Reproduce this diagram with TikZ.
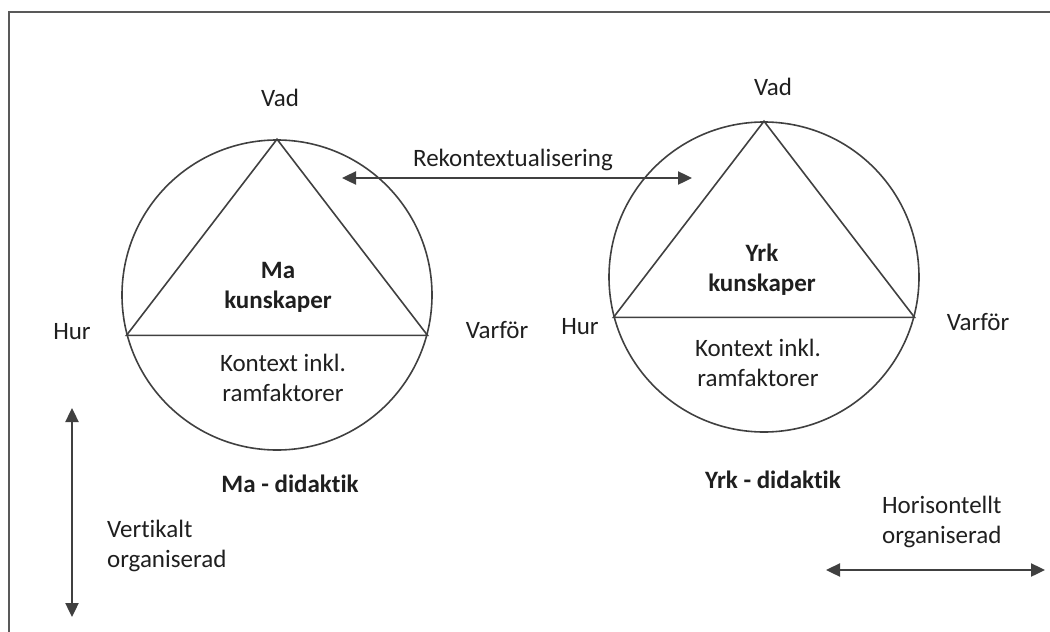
\documentclass[tikz,border=0pt]{standalone}
\usepackage{fontspec}
\setmainfont{Carlito}[Ligatures={NoCommon,NoContextual}]
\usetikzlibrary{arrows.meta}

\tikzset{
    ring/.style={circle, draw, minimum size=310pt, inner sep=0pt},
    twoway/.style={line width=2.4pt, {Triangle[length=14pt, width=13pt]}-{Triangle[length=14pt, width=13pt]}},
}

\begin{document}
\begin{tikzpicture}[x=1pt, y=-1pt, line width=1.6pt, draw=black!75, text=black!88]
    \fontsize{25}{30}\selectfont
    \useasboundingbox (0,0) rectangle (1050,632);
    \draw[line width=2pt, black!65] (9,632) -- (9,12) -- (1050,12);

    \begin{scope}
        \node[ring] (macirc) at (277,295) {};
        \draw (macirc.90) -- (macirc.195) -- (macirc.-15) -- cycle;
        \node (mavad) at (280,98) {Vad};
        \node (mahur) at (72,332) {Hur};
        \node (mavarfor) at (497,330) {Varför};
        \node[align=center, font=\bfseries] (makunsk) at (278,287) {Ma\\kunskaper};
        \node[align=center] (makontext) at (283,378) {Kontext inkl.\\ramfaktorer};
        \node[font=\bfseries] (madid) at (290,484) {Ma - didaktik};
    \end{scope}

    \begin{scope}
        \node[ring] (yrkcirc) at (764,277) {};
        \draw (yrkcirc.90) -- (yrkcirc.195) -- (yrkcirc.-15) -- cycle;
        \node (yrkvad) at (773,87) {Vad};
        \node (yrkhur) at (580,327) {Hur};
        \node (yrkvarfor) at (978,322) {Varför};
        \node[align=center, font=\bfseries] (yrkkunsk) at (762,270) {Yrk\\kunskaper};
        \node[align=center] (yrkkontext) at (758,363) {Kontext inkl.\\ramfaktorer};
        \node[font=\bfseries] (yrkdid) at (773,480) {Yrk - didaktik};
    \end{scope}

    \node (rekon) at (513,160) {Rekontextualisering};
    \coordinate (rekl) at (342,178);
    \coordinate (rekr) at (692,178);
    \draw[twoway] (rekl) -- (rekr);

    \coordinate (verttop) at (72,408);
    \coordinate (vertbot) at (72,617);
    \draw[twoway] (verttop) -- (vertbot);
    \node[anchor=west, align=left] (vertlab) at (98,546) {Vertikalt\\organiserad};

    \coordinate (horl) at (826,570);
    \coordinate (horr) at (1045,570);
    \draw[twoway] (horl) -- (horr);
    \node[anchor=west, align=left] (horlab) at (873,522) {Horisontellt\\organiserad};
\end{tikzpicture}
\end{document}
